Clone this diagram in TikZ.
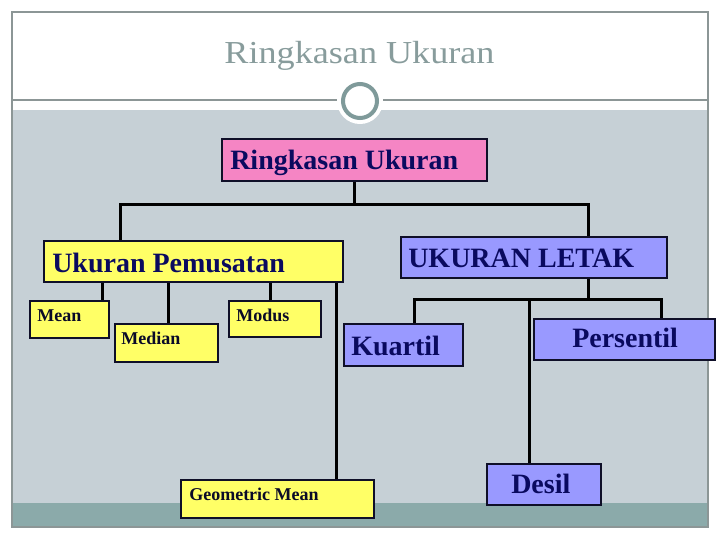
\documentclass[tikz,border=0pt]{standalone}
\usepackage{fontspec}
\setmainfont{Liberation Serif}
\newfontfamily\titlefont[FakeStretch=1.13]{Liberation Serif}
\usetikzlibrary{calc}
\definecolor{panelc}{RGB}{198,208,214}
\definecolor{bandc}{RGB}{139,170,170}
\definecolor{framec}{RGB}{140,150,150}
\definecolor{titlec}{RGB}{136,156,156}
\definecolor{ringc}{RGB}{127,154,154}
\definecolor{pinkc}{RGB}{245,133,196}
\definecolor{yellowc}{RGB}{255,255,102}
\definecolor{bluec}{RGB}{153,153,255}
\definecolor{navyc}{RGB}{10,10,95}
\definecolor{darkc}{RGB}{10,10,40}
\definecolor{boxline}{RGB}{15,15,40}
\newcommand\pxu{0.75pt}
\begin{document}
\begin{tikzpicture}[x=0.75pt,y=-0.75pt,
  box/.style={draw=boxline, line width=1.5pt, inner sep=0pt, anchor=north west, rectangle},
  conn/.style={line width=2.25pt, black},
  bigtxt/.style={font=\fontsize{21}{21}\selectfont\bfseries, text=navyc, anchor=base west, inner sep=0pt},
  smalltxt/.style={font=\fontsize{13.5}{13.5}\selectfont\bfseries, text=darkc, anchor=base west, inner sep=0pt}]
\useasboundingbox (0,0) rectangle (720,540);
% slide background
\fill[white] (0,0) rectangle (720,540);
\fill[panelc] (12,110) rectangle (708,503);
\fill[bandc] (12,503) rectangle (708,527);
\draw[framec, line width=0.9pt] (12,12) rectangle (708,527);
\draw[framec, line width=0.9pt] (12,100) -- (708,100);
\fill[white] (360,101) circle[radius=23];
\draw[ringc, line width=3pt, fill=white] (360,101) circle[radius=17];
\node[font=\titlefont\fontsize{24}{24}\selectfont, text=titlec, anchor=base, inner sep=0pt] (title) at (359.5,63) {Ringkasan Ukuran};
% boxes
\node[box, fill=pinkc, minimum width=265*\pxu, minimum height=42*\pxu] (root) at (221,138) {};
\node[box, fill=yellowc, minimum width=299*\pxu, minimum height=41*\pxu] (pem) at (43,240) {};
\node[box, fill=bluec, minimum width=266*\pxu, minimum height=41*\pxu] (let) at (400,236) {};
\node[box, fill=yellowc, minimum width=79*\pxu, minimum height=37*\pxu] (mean) at (29,300) {};
\node[box, fill=yellowc, minimum width=103*\pxu, minimum height=38*\pxu] (median) at (114,323) {};
\node[box, fill=yellowc, minimum width=92*\pxu, minimum height=36*\pxu] (modus) at (228,300) {};
\node[box, fill=yellowc, minimum width=193*\pxu, minimum height=38*\pxu] (geo) at (180,479) {};
\node[box, fill=bluec, minimum width=119*\pxu, minimum height=42*\pxu] (kuartil) at (343,323) {};
\node[box, fill=bluec, minimum width=181*\pxu, minimum height=41*\pxu] (persentil) at (533,318) {};
\node[box, fill=bluec, minimum width=114*\pxu, minimum height=41*\pxu] (desil) at (486,463) {};
% texts
\node[bigtxt] (troot) at (230,169) {Ringkasan Ukuran};
\node[bigtxt] (tpem) at (52,272) {Ukuran Pemusatan};
\node[bigtxt] (tlet) at (408,267) {UKURAN LETAK};
\node[bigtxt] (tkuartil) at (351,355) {Kuartil};
\node[bigtxt] (tpersentil) at (572,347) {Persentil};
\node[bigtxt] (tdesil) at (511,493) {Desil};
\node[smalltxt] (tmean) at (37,321) {Mean};
\node[smalltxt] (tmedian) at (121,344) {Median};
\node[smalltxt] (tmodus) at (236,321) {Modus};
\node[smalltxt] (tgeo) at (189,500) {Geometric Mean};
% connectors
\coordinate (bus1) at (0,204);
\coordinate (bus2) at (0,299);
\draw[conn] (root.south) -- (root.south |- bus1);
\draw[conn, line cap=rect] (120,0 |- bus1) -- (588,0 |- bus1);
\draw[conn] (120,0 |- bus1) -- (120,0 |- pem.north);
\draw[conn] (588,0 |- bus1) -- (588,0 |- let.north);
\draw[conn] (102,0 |- pem.south) -- (102,0 |- mean.north);
\draw[conn] (168,0 |- pem.south) -- (168,0 |- median.north);
\draw[conn] (270,0 |- pem.south) -- (270,0 |- modus.north);
\draw[conn] (336,0 |- pem.south) -- (336,0 |- geo.north);
\draw[conn] (588,0 |- let.south) -- (588,0 |- bus2);
\draw[conn, line cap=rect] (414,0 |- bus2) -- (661,0 |- bus2);
\draw[conn] (414,0 |- bus2) -- (414,0 |- kuartil.north);
\draw[conn] (661,0 |- bus2) -- (661,0 |- persentil.north);
\draw[conn] (529,0 |- bus2) -- (529,0 |- desil.north);
\end{tikzpicture}
\end{document}
